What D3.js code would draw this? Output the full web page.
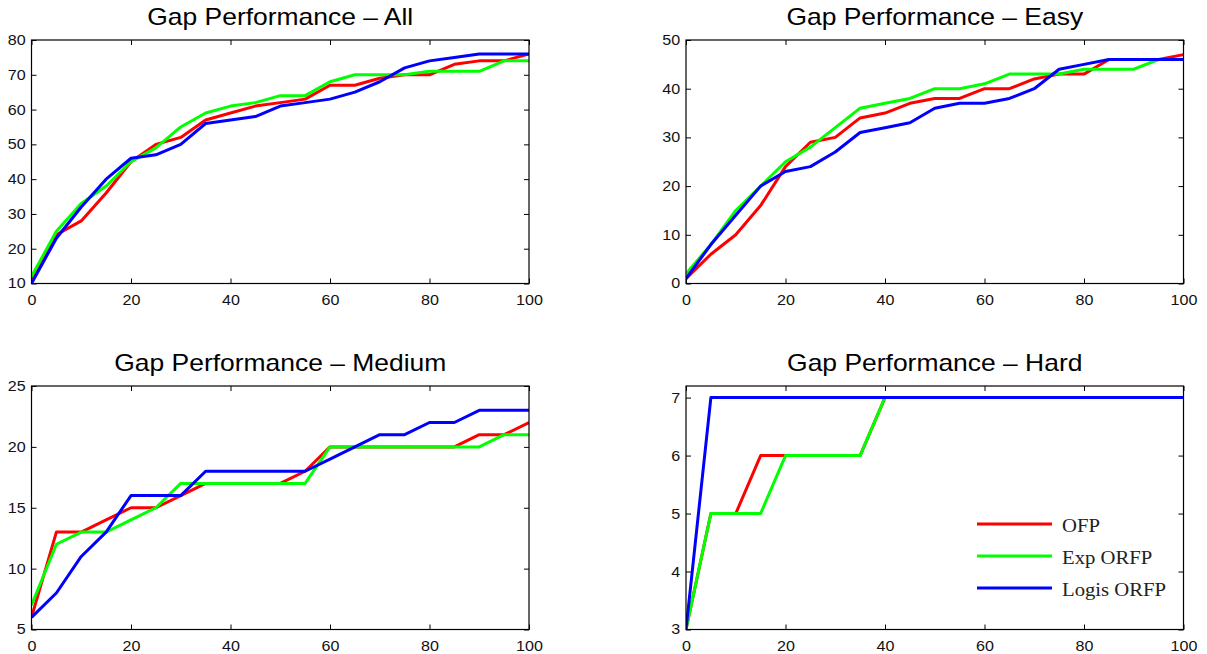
<!DOCTYPE html>
<html>
<head>
<meta charset="utf-8">
<script src="https://cdn.jsdelivr.net/npm/d3@7/dist/d3.min.js"></script>
<style>
  html, body { margin: 0; padding: 0; background: #fff; }
  svg { display: block; }
  .tick text { font-family: "Liberation Sans", Arial, sans-serif; font-size: 14px; fill: #111; }
  .title { font-family: "Liberation Sans", Arial, sans-serif; font-size: 23px; fill: #000; }
  .legend text { font-family: "Liberation Serif", "Times New Roman", serif; font-size: 18px; fill: #222; }
</style>
</head>
<body>
<svg id="chart" width="1207" height="654"></svg>
<script>
// Percentage of budget spent (x) shared by every panel
const budget = [0, 5, 10, 15, 20, 25, 30, 35, 40, 45, 50, 55, 60, 65, 70, 75, 80, 85, 90, 95, 100];

// Gap performance, all problems
const allOFP      = [11, 24, 28, 36, 45, 50, 52, 57, 59, 61, 62, 63, 67, 67, 69, 70, 70, 73, 74, 74, 76];
const allExpORFP  = [12, 25, 33, 38, 45, 49, 55, 59, 61, 62, 64, 64, 68, 70, 70, 70, 71, 71, 71, 74, 74];
const allLogORFP  = [10, 23, 32, 40, 46, 47, 50, 56, 57, 58, 61, 62, 63, 65, 68, 72, 74, 75, 76, 76, 76];

// Easy problems
const easyOFP     = [1, 6, 10, 16, 24, 29, 30, 34, 35, 37, 38, 38, 40, 40, 42, 43, 43, 46, 46, 46, 47];
const easyExpORFP = [2, 8, 15, 20, 25, 28, 32, 36, 37, 38, 40, 40, 41, 43, 43, 43, 44, 44, 44, 46, 46];
const easyLogORFP = [1, 8, 14, 20, 23, 24, 27, 31, 32, 33, 36, 37, 37, 38, 40, 44, 45, 46, 46, 46, 46];

// Medium problems
const medOFP      = [6, 13, 13, 14, 15, 15, 16, 17, 17, 17, 17, 18, 20, 20, 20, 20, 20, 20, 21, 21, 22];
const medExpORFP  = [7, 12, 13, 13, 14, 15, 17, 17, 17, 17, 17, 17, 20, 20, 20, 20, 20, 20, 20, 21, 21];
const medLogORFP  = [6, 8, 11, 13, 16, 16, 16, 18, 18, 18, 18, 18, 19, 20, 21, 21, 22, 22, 23, 23, 23];

// Hard problems
const hardOFP     = [3, 5, 5, 6, 6, 6, 6, 6, 7, 7, 7, 7, 7, 7, 7, 7, 7, 7, 7, 7, 7];
const hardExpORFP = [3, 5, 5, 5, 6, 6, 6, 6, 7, 7, 7, 7, 7, 7, 7, 7, 7, 7, 7, 7, 7];
const hardLogORFP = [3, 7, 7, 7, 7, 7, 7, 7, 7, 7, 7, 7, 7, 7, 7, 7, 7, 7, 7, 7, 7];

const seriesNames  = ["OFP", "Exp ORFP", "Logis ORFP"];
const seriesColors = ["#ff0000", "#00ff00", "#0000ff"];

const titles  = ["Gap Performance \u2013 All", "Gap Performance \u2013 Easy",
                 "Gap Performance \u2013 Medium", "Gap Performance \u2013 Hard"];
const yDomains = [[10, 80], [0, 50], [5, 25], [3, 7.2]];
const yTicks   = [[10, 20, 30, 40, 50, 60, 70, 80], [0, 10, 20, 30, 40, 50],
                  [5, 10, 15, 20, 25], [3, 4, 5, 6, 7]];
const xTicks   = [0, 20, 40, 60, 80, 100];
const panelSeries = [
  [allOFP, allExpORFP, allLogORFP],
  [easyOFP, easyExpORFP, easyLogORFP],
  [medOFP, medExpORFP, medLogORFP],
  [hardOFP, hardExpORFP, hardLogORFP]
];

// Layout of the 2x2 grid of axes
const axW = 497.5, axH = 243.5;
const origins = [[31.5, 40], [686, 40], [31.5, 386], [686, 386]];
const stretch = "scale(1.15,1)";   // wide glyph rendering of the figure text
const tickLen = 5;
const intFmt = d3.format("d");

const svg = d3.select("#chart");

panelSeries.forEach((series, i) => {
  const [ox, oy] = origins[i];
  const g = svg.append("g").attr("transform", `translate(${ox},${oy})`);

  const x = d3.scaleLinear().domain([0, 100]).range([0, axW]);
  const y = d3.scaleLinear().domain(yDomains[i]).range([axH, 0]);

  g.append("clipPath").attr("id", "clip" + i)
    .append("rect").attr("width", axW).attr("height", axH);

  // Title
  g.append("text").attr("class", "title")
    .attr("transform", `translate(${axW / 2},-15) ${stretch}`)
    .attr("text-anchor", "middle")
    .text(titles[i]);

  // Bottom and left axes with labels, ticks pointing inwards
  const gx = g.append("g").attr("transform", `translate(0,${axH})`)
    .call(d3.axisBottom(x).tickValues(xTicks).tickFormat(intFmt).tickSize(-tickLen).tickPadding(12));
  const gy = g.append("g")
    .call(d3.axisLeft(y).tickValues(yTicks[i]).tickFormat(intFmt).tickSize(-tickLen).tickPadding(5));
  // Mirrored ticks on the top and right edges
  const gt = g.append("g")
    .call(d3.axisTop(x).tickValues(xTicks).tickSize(-tickLen).tickFormat(""));
  const gr = g.append("g").attr("transform", `translate(${axW},0)`)
    .call(d3.axisRight(y).tickValues(yTicks[i]).tickSize(-tickLen).tickFormat(""));

  [gx, gy, gt, gr].forEach(a => {
    a.select(".domain").remove();
    a.selectAll(".tick line").attr("stroke", "#000").attr("stroke-width", 1);
  });
  gx.selectAll(".tick text").attr("transform", stretch);
  gy.selectAll(".tick text").attr("transform", stretch);

  // Series lines
  const line = d3.line().x((d, k) => x(budget[k])).y(d => y(d));
  const plot = g.append("g").attr("clip-path", `url(#clip${i})`);
  series.forEach((vals, s) => {
    plot.append("path").datum(vals)
      .attr("d", line)
      .attr("fill", "none")
      .attr("stroke", seriesColors[s])
      .attr("stroke-width", 3)
      .attr("stroke-linejoin", "round");
  });

  // Axes box
  g.append("rect").attr("width", axW).attr("height", axH)
    .attr("fill", "none").attr("stroke", "#000").attr("stroke-width", 1.2);

  // Legend inside the last panel
  if (i === 3) {
    const lg = g.append("g").attr("class", "legend").attr("transform", "translate(291,138)");
    seriesNames.forEach((name, s) => {
      const row = lg.append("g").attr("transform", `translate(0,${s * 32})`);
      row.append("line").attr("x1", 0).attr("x2", 75).attr("y1", 0).attr("y2", 0)
        .attr("stroke", seriesColors[s]).attr("stroke-width", 3);
      row.append("text").attr("transform", `translate(85,8) ${stretch}`).text(name);
    });
  }
});
</script>
</body>
</html>
